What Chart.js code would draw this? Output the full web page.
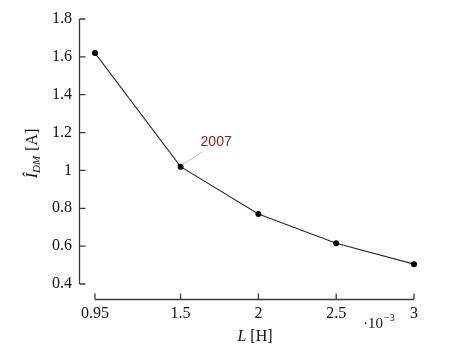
<!DOCTYPE html>
<html>
<head>
<meta charset="utf-8">
<script src="https://cdn.jsdelivr.net/npm/chart.js@4/dist/chart.umd.min.js"></script>
<style>
  html, body { margin: 0; padding: 0; background: #fff; }
  #wrap { width: 473px; height: 357px; }
</style>
</head>
<body>
<div id="wrap"><canvas id="chart" width="473" height="357"></canvas></div>
<script>
// --- data ---
const inductance = [0.95, 1.5, 2, 2.5, 3];          // L [H], x 10^-3
const peakCurrent = [1.62, 1.02, 0.77, 0.615, 0.505]; // I_DM [A]
const xTickValues = [0.95, 1.5, 2, 2.5, 3];
const yTickValues = [0.4, 0.6, 0.8, 1, 1.2, 1.4, 1.6, 1.8];
const noteText = '2007';
const noteIndex = 1;

const serif = '"Liberation Serif", "DejaVu Serif", serif';
const axisColor = '#3a3a3a';

// axes are drawn detached from the plot area, like pgfplots "separate axis lines"
const detachedAxes = {
    id: 'detachedAxes',
    afterDraw(chart) {
        const ctx = chart.ctx;
        const xs = chart.scales.x, ys = chart.scales.y;
        const area = chart.chartArea;
        const axX = Math.round(area.left - 16) + 0.5;   // y axis line
        const axY = Math.round(area.bottom + 15) + 0.5; // x axis line
        ctx.save();
        ctx.strokeStyle = axisColor;
        ctx.lineWidth = 1.3;
        ctx.beginPath();
        ctx.moveTo(axX, area.top);
        ctx.lineTo(axX, area.bottom);
        yTickValues.forEach(v => {
            let p = ys.getPixelForValue(v);
            ctx.moveTo(axX, p);
            ctx.lineTo(axX + 6, p);
        });
        ctx.moveTo(area.left, axY);
        ctx.lineTo(area.right, axY);
        xTickValues.forEach(v => {
            let p = xs.getPixelForValue(v);
            ctx.moveTo(p, axY);
            ctx.lineTo(p, axY - 6);
        });
        ctx.stroke();

        ctx.fillStyle = '#111';
        ctx.textBaseline = 'alphabetic';

        // x title: L [H]
        ctx.font = 'italic 16px ' + serif;
        let w1 = ctx.measureText('L').width;
        ctx.font = '16px ' + serif;
        let w2 = ctx.measureText(' [H]').width;
        let sx = 255 - (w1 + w2) / 2;
        ctx.font = 'italic 16px ' + serif;
        ctx.fillText('L', sx, 341);
        ctx.font = '16px ' + serif;
        ctx.fillText(' [H]', sx + w1, 341);

        // exponent label
        ctx.font = '15px ' + serif;
        ctx.fillText('\u00b710', 363, 328);
        let we = ctx.measureText('\u00b710').width;
        ctx.font = '10px ' + serif;
        ctx.fillText('\u22123', 363 + we + 1, 321);

        // y title: I-hat_DM [A], rotated
        ctx.save();
        ctx.translate(37, 154);
        ctx.rotate(-Math.PI / 2);
        ctx.font = 'italic 16px ' + serif;
        let a = ctx.measureText('\u00ce').width;
        ctx.font = 'italic 11px ' + serif;
        let b = ctx.measureText('DM').width;
        ctx.font = '16px ' + serif;
        let c = ctx.measureText(' [A]').width;
        let x0 = -(a + b + c) / 2;
        ctx.font = 'italic 16px ' + serif;
        ctx.fillText('\u00ce', x0, 0);
        ctx.font = 'italic 11px ' + serif;
        ctx.fillText('DM', x0 + a, 3);
        ctx.font = '16px ' + serif;
        ctx.fillText(' [A]', x0 + a + b + 1, 0);
        ctx.restore();

        // annotation with leader line
        let px = xs.getPixelForValue(inductance[noteIndex]);
        let py = ys.getPixelForValue(peakCurrent[noteIndex]);
        ctx.strokeStyle = '#c4c4c4';
        ctx.lineWidth = 1;
        ctx.beginPath();
        ctx.moveTo(px + 2, py - 2);
        ctx.lineTo(px + 22, py - 15);
        ctx.stroke();
        ctx.fillStyle = '#8b1c1c';
        ctx.font = '14px "Liberation Sans", Arial, sans-serif';
        ctx.textBaseline = 'middle';
        ctx.fillText(noteText, px + 20, py - 25);
        ctx.restore();
    }
};

new Chart(document.getElementById('chart'), {
    type: 'scatter',
    data: {
        datasets: [{
            data: inductance.map((x, i) => ({x: x, y: peakCurrent[i]})),
            showLine: true,
            borderColor: '#2a2a2a',
            borderWidth: 1.1,
            pointRadius: 3,
            pointHoverRadius: 3,
            pointBackgroundColor: '#000',
            pointBorderColor: '#000',
            pointBorderWidth: 0,
            clip: false
        }]
    },
    options: {
        responsive: false,
        animation: false,
        events: [],
        layout: { padding: { top: 19, right: 59, left: 0, bottom: 0 } },
        plugins: { legend: { display: false }, tooltip: { enabled: false } },
        scales: {
            x: {
                type: 'linear',
                min: 0.95,
                max: 3,
                grid: { display: false, drawTicks: false },
                border: { display: false },
                afterBuildTicks: s => { s.ticks = xTickValues.map(v => ({value: v})); },
                afterFit: s => { s.height = 73; s.paddingLeft = 0; s.paddingRight = 0; },
                ticks: {
                    color: '#111',
                    font: { family: serif, size: 16 },
                    padding: 20,
                    maxRotation: 0,
                    autoSkip: false,
                    callback: v => String(v)
                }
            },
            y: {
                min: 0.4,
                max: 1.8,
                grid: { display: false, drawTicks: false },
                border: { display: false },
                afterBuildTicks: s => { s.ticks = yTickValues.map(v => ({value: v})); },
                // tick padding would otherwise push the plot area down
                afterFit: s => { s.width = 95; s.paddingTop = 0; s.paddingBottom = 0; },
                ticks: {
                    color: '#111',
                    font: { family: serif, size: 16 },
                    padding: 23,
                    callback: v => String(Math.round(v * 10) / 10)
                }
            }
        }
    },
    plugins: [detachedAxes]
});
</script>
</body>
</html>
